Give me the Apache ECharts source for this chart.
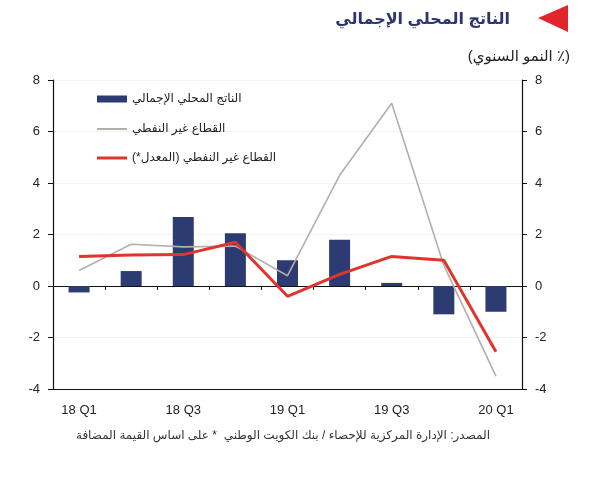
<!DOCTYPE html>
<html>
<head>
  <meta charset="utf-8">
  <title>GDP chart</title>
  <script src="https://cdn.jsdelivr.net/npm/echarts@6/dist/echarts.min.js"></script>
  <style>
    html, body { margin: 0; padding: 0; background: #fff; }
    #chart { width: 600px; height: 489px; }
  </style>
</head>
<body>
<div id="chart"></div>
<script>
  // RLM on both sides keeps the brackets in the right place
  function rtl(s) { return '\u200F' + s + '\u200F'; }

  var quarters = ['18 Q1', '18 Q2', '18 Q3', '18 Q4', '19 Q1', '19 Q2', '19 Q3', '19 Q4', '20 Q1'];
  var gdp = [-0.25, 0.58, 2.68, 2.05, 1.0, 1.8, 0.12, -1.1, -1.0];
  var nonOil = [0.6, 1.62, 1.52, 1.55, 0.4, 4.3, 7.1, 0.8, -3.5];
  var nonOilAdj = [1.15, 1.2, 1.22, 1.7, -0.4, 0.45, 1.15, 1.0, -2.55];
  var yTicks = { min: -4, max: 8, interval: 2 };

  var names = [rtl('الناتج المحلي الإجمالي'), rtl('القطاع غير النفطي'), rtl('القطاع غير النفطي (المعدل*)')];
  var colors = ['#2c3b72', '#b4afab', '#e0342c'];
  var fontFam = 'Arial, "Liberation Sans", "DejaVu Sans", sans-serif';

  var chart = echarts.init(document.getElementById('chart'));

  function yAxis(pos) {
    return {
      type: 'value',
      position: pos,
      min: yTicks.min, max: yTicks.max, interval: yTicks.interval,
      axisLine: { show: true, lineStyle: { color: '#111', width: 1.2 } },
      axisTick: { show: true, length: 5, lineStyle: { color: '#111' } },
      axisLabel: { color: '#222', fontSize: 13, margin: 13, fontFamily: fontFam },
      splitLine: { show: pos === 'left', lineStyle: { color: '#f3f3f3' } }
    };
  }

  // one legend per item so each icon gets its own thickness
  function legendItem(i, top, h) {
    return {
      data: [names[i]],
      left: 92, top: top,
      icon: 'rect',
      itemWidth: 30, itemHeight: h,
      textStyle: { fontSize: 12, color: '#222', fontFamily: fontFam }
    };
  }

  chart.setOption({
    animation: false,
    textStyle: { fontFamily: fontFam },
    title: [
      {
        text: rtl('الناتج المحلي الإجمالي'),
        right: 85, top: 7,
        textStyle: { fontSize: 16, fontWeight: 'bold', color: '#2d3570', fontFamily: fontFam }
      },
      {
        text: rtl('(٪ النمو السنوي)'),
        right: 25, top: 44,
        textStyle: { fontSize: 15, fontWeight: 'normal', color: '#222', fontFamily: fontFam }
      }
    ],
    graphic: [
      {
        type: 'polygon',
        shape: { points: [[538, 18], [568, 5], [568, 32]] },
        style: { fill: '#e0262c' }
      },
      {
        type: 'text',
        right: 110, top: 430,
        style: {
          text: rtl('المصدر: الإدارة المركزية للإحصاء / بنك الكويت الوطني  * على اساس القيمة المضافة'),
          fill: '#333', font: '12px ' + fontFam
        }
      }
    ],
    legend: [
      legendItem(0, 88, 7),
      legendItem(1, 118, 2),
      legendItem(2, 147, 3)
    ],
    grid: { left: 53, right: 78, top: 80, bottom: 100 },
    xAxis: [
      {
        type: 'category',
        data: quarters,
        axisLine: { onZero: true, lineStyle: { color: '#111', width: 1.2 } },
        axisTick: { show: true, length: 4, lineStyle: { color: '#111' } },
        axisLabel: { show: false },
        splitLine: { show: false }
      },
      {
        type: 'category',
        data: quarters,
        position: 'bottom',
        axisLine: { onZero: false, lineStyle: { color: '#111', width: 1.2 } },
        axisTick: { show: false },
        axisLabel: { interval: 1, color: '#222', fontSize: 13, margin: 15, fontFamily: fontFam },
        splitLine: { show: false }
      }
    ],
    yAxis: [yAxis('left'), yAxis('right')],
    series: [
      {
        name: names[0],
        type: 'bar',
        data: gdp,
        barWidth: 21,
        itemStyle: { color: colors[0] }
      },
      {
        name: names[1],
        type: 'line',
        data: nonOil,
        symbol: 'none',
        lineStyle: { color: colors[1], width: 1.6 },
        itemStyle: { color: colors[1] }
      },
      {
        name: names[2],
        type: 'line',
        data: nonOilAdj,
        symbol: 'none',
        lineStyle: { color: colors[2], width: 3 },
        itemStyle: { color: colors[2] }
      }
    ]
  });
</script>
</body>
</html>
